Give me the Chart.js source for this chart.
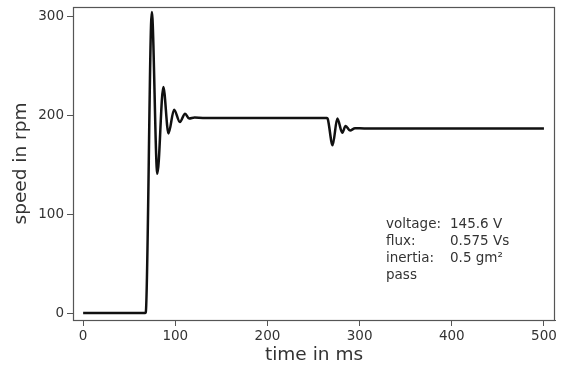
<!DOCTYPE html>
<html>
<head>
<meta charset="utf-8">
<script src="https://cdn.jsdelivr.net/npm/chart.js@4.4.1/dist/chart.umd.min.js"></script>
<style>
html,body{margin:0;padding:0;background:#fff;}
#c{display:block;}
</style>
</head>
<body>
<canvas id="c" width="561" height="368"></canvas>
<script>
// ---- data ----
const timeMs = [0, 67, 68, 74.5, 80.5, 87, 92.6, 98.7, 105, 110.6, 115, 121, 130,
                264.5, 265.5, 270.7, 275.8, 281.2, 284.8, 289.6, 295, 305, 500];
const speedRpm = [0, 0, 1, 305, 141, 229, 182, 206, 193.5, 202, 197, 198, 197.7,
                  197.7, 196.5, 170, 197, 182.7, 189.5, 185, 187.2, 187, 187];
const xTicks = [0, 100, 200, 300, 400, 500];
const yTicks = [0, 100, 200, 300];
const xTitle = 'time in ms';
const yTitle = 'speed in rpm';
const infoLabels = ['voltage:', 'flux:', 'inertia:', 'pass'];
const infoValues = ['145.6 V', '0.575 Vs', '0.5 gm²', ''];

const points = timeMs.map((t, i) => ({x: t, y: speedRpm[i]}));
const FONT = 'DejaVu Sans';
const TXT = '#333';

const framePlugin = {
  id: 'frame',
  afterDraw(chart) {
    const {ctx, chartArea: a} = chart;
    ctx.save();
    ctx.strokeStyle = '#555';
    ctx.lineWidth = 1.2;
    ctx.strokeRect(a.left + 0.5, a.top + 0.5, a.right - a.left - 1, a.bottom - a.top);
    // annotation text
    ctx.fillStyle = TXT;
    ctx.font = '13.5px "' + FONT + '"';
    ctx.textBaseline = 'middle';
    ctx.textAlign = 'left';
    const x0 = a.left + 313, x1 = a.left + 377, y0 = 224, dy = 17;
    infoLabels.forEach((l, i) => {
      ctx.fillText(l, x0, y0 + i * dy);
      if (infoValues[i]) ctx.fillText(infoValues[i], x1, y0 + i * dy);
    });
    ctx.restore();
  }
};

new Chart(document.getElementById('c'), {
  type: 'line',
  data: {
    datasets: [{
      data: points,
      borderColor: '#111',
      borderWidth: 2.5,
      pointRadius: 0,
      fill: false,
      cubicInterpolationMode: 'monotone'
    }]
  },
  options: {
    responsive: false,
    animation: false,
    devicePixelRatio: 1,
    layout: {padding: {left: 0, top: 7, right: 6, bottom: 0}},
    plugins: {legend: {display: false}, tooltip: {enabled: false}},
    scales: {
      x: {
        type: 'linear',
        min: -11, max: 512,
        afterFit(s) { s.height = 48; s.paddingLeft = 0; s.paddingRight = 0; },
        afterBuildTicks(s) { s.ticks = xTicks.map(v => ({value: v})); },
        ticks: {
          includeBounds: false,
          color: TXT, padding: 2, maxRotation: 0,
          font: {family: FONT, size: 13.5}
        },
        grid: {drawOnChartArea: false, drawTicks: true, tickLength: 6, color: '#555'},
        border: {display: true, color: '#555'},
        title: {display: true, text: xTitle, color: TXT,
                font: {family: FONT, size: 18.5, lineHeight: 1}, padding: {top: 0, bottom: 3.75}}
      },
      y: {
        type: 'linear',
        min: -7, max: 310,
        afterFit(s) { s.width = 73; s.paddingTop = 0; s.paddingBottom = 0; },
        afterBuildTicks(s) { s.ticks = yTicks.map(v => ({value: v})); },
        ticks: {
          includeBounds: false,
          color: TXT, padding: 3,
          font: {family: FONT, size: 13.5}
        },
        grid: {drawOnChartArea: false, drawTicks: true, tickLength: 6, color: '#555'},
        border: {display: true, color: '#555'},
        title: {display: true, text: yTitle, color: TXT,
                font: {family: FONT, size: 18.5, lineHeight: 1}, padding: {top: 11.75, bottom: 0}}
      }
    }
  },
  plugins: [framePlugin]
});
</script>
</body>
</html>
